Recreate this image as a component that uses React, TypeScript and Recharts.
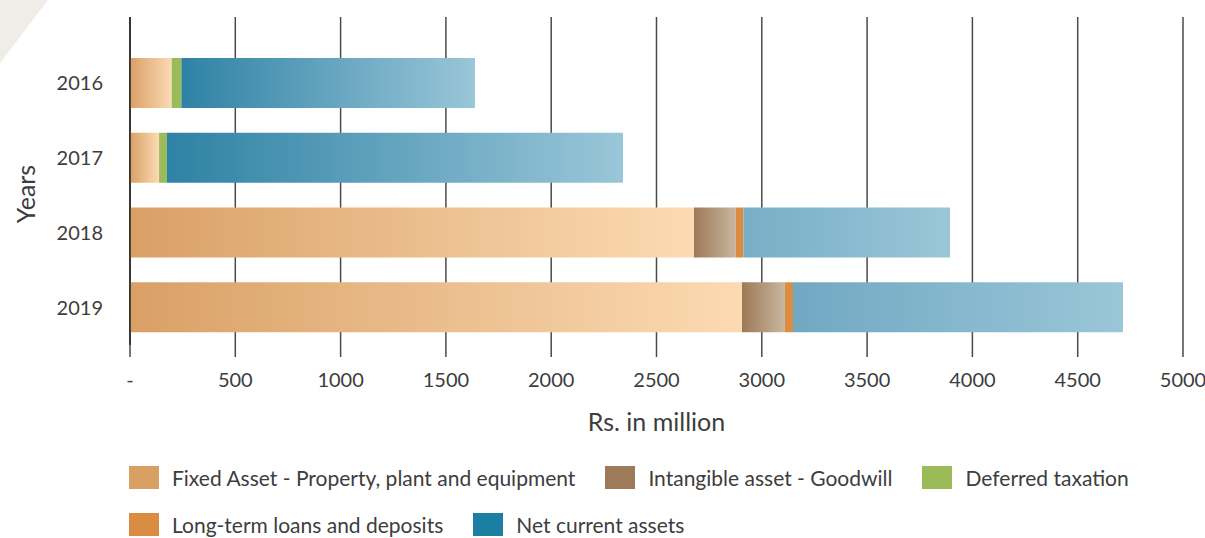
import { BarChart, Bar, XAxis, YAxis, CartesianGrid, Cell } from "recharts";

const years = ["2016", "2017", "2018", "2019"];
const fixedAssets = [198, 138, 2678, 2906];
const goodwill = [0, 0, 199, 204];
const deferredTax = [46, 37, 0, 0];
const loans = [0, 0, 36, 38];
const netCurrent = [1394, 2166, 981, 1567];
const xTicks = [0, 500, 1000, 1500, 2000, 2500, 3000, 3500, 4000, 4500, 5000];

const series = [
  { key: "fixed", name: "Fixed Asset - Property, plant and equipment", color: "#D9A066" },
  { key: "goodwill", name: "Intangible asset - Goodwill", color: "#9E7B58" },
  { key: "deferred", name: "Deferred taxation", color: "#9BBB59" },
  { key: "loans", name: "Long-term loans and deposits", color: "#D98C42" },
  { key: "net", name: "Net current assets", color: "#1A7FA0" },
];

// blue segments start darker on the first two years
const netStart = ["#2F82A5", "#2E82A4", "#78AEC6", "#71A8C2"];

const data = years.map((y, i) => ({
  year: y,
  fixed: fixedAssets[i],
  goodwill: goodwill[i],
  deferred: deferredTax[i],
  loans: loans[i],
  net: netCurrent[i],
}));

const FONT = "Lato, 'Open Sans', sans-serif";
const TEXT = "#3d3d3d";

const YearsLabel = (props: any) => {
  const { viewBox } = props;
  const x = viewBox.x - 15;
  const y = viewBox.y + viewBox.height / 2 + 13;
  return (
    <text
      x={x}
      y={y}
      transform={`rotate(-90, ${x}, ${y})`}
      textAnchor="middle"
      dominantBaseline="central"
      fill={TEXT}
      fontSize={25}
      fontFamily={FONT}
    >
      Years
    </text>
  );
};

function LegendItem({ name, color }: { name: string; color: string }) {
  return (
    <div style={{ display: "flex", alignItems: "center", marginRight: 30, height: 23 }}>
      <span style={{ width: 30, height: 23, background: color, marginRight: 13 }} />
      <span style={{ fontSize: 21, lineHeight: "23px", color: TEXT, fontFamily: FONT }}>{name}</span>
    </div>
  );
}

export default function App() {
  const row1 = [series[0], series[1], series[2]];
  const row2 = [series[3], series[4]];
  return (
    <div style={{ position: "absolute", left: 0, top: 0, width: 1205, height: 538, background: "#fff", overflow: "hidden" }}>
      <svg width={60} height={70} style={{ position: "absolute", left: 0, top: 0 }}>
        <polygon points="0,0 48,0 0,63" fill="#F0EDE8" />
      </svg>
      <BarChart
        width={1205}
        height={538}
        data={data}
        layout="vertical"
        margin={{ top: 17, right: 22, left: 40, bottom: 125 }}
        barSize={50}
      >
        <defs>
          <linearGradient id="gFixed" x1="0" y1="0" x2="1" y2="0">
            <stop offset="0%" stopColor="#D9A066" />
            <stop offset="100%" stopColor="#FCDAB3" />
          </linearGradient>
          <linearGradient id="gGood" x1="0" y1="0" x2="1" y2="0">
            <stop offset="0%" stopColor="#9C7A56" />
            <stop offset="100%" stopColor="#C9B6A0" />
          </linearGradient>
          {netStart.map((c, i) => (
            <linearGradient key={i} id={`gNet${i}`} x1="0" y1="0" x2="1" y2="0">
              <stop offset="0%" stopColor={c} />
              <stop offset="100%" stopColor="#9AC6D8" />
            </linearGradient>
          ))}
        </defs>
        <CartesianGrid vertical horizontal={false} stroke="#4a4a4a" strokeWidth={1.5} />
        <XAxis
          type="number"
          domain={[0, 5000]}
          ticks={xTicks}
          interval={0}
          axisLine={false}
          tickSize={12}
          tickLine={{ stroke: "#4a4a4a", strokeWidth: 1.5 }}
          tickMargin={16}
          height={68}
          tick={{ fill: TEXT, fontSize: 20, fontFamily: FONT }}
          tickFormatter={(v: number) => (v === 0 ? "-" : String(v))}
          label={{ value: "Rs. in million", position: "bottom", offset: 0, fill: TEXT, fontSize: 25, fontFamily: FONT }}
        />
        <YAxis
          type="category"
          dataKey="year"
          width={90}
          axisLine={{ stroke: "#222", strokeWidth: 1.5 }}
          tickLine={false}
          tickSize={0}
          tickMargin={27}
          padding={{ top: 29, bottom: 0 }}
          tick={{ fill: TEXT, fontSize: 20, fontFamily: FONT }}
          label={<YearsLabel />}
        />
        <Bar dataKey="fixed" name={series[0].name} stackId="a" fill="url(#gFixed)" isAnimationActive={false} />
        <Bar dataKey="goodwill" name={series[1].name} stackId="a" fill="url(#gGood)" isAnimationActive={false} />
        <Bar dataKey="deferred" name={series[2].name} stackId="a" fill="#9BBB59" isAnimationActive={false} />
        <Bar dataKey="loans" name={series[3].name} stackId="a" fill="#D98C42" isAnimationActive={false} />
        <Bar dataKey="net" name={series[4].name} stackId="a" isAnimationActive={false}>
          {data.map((_, i) => (
            <Cell key={i} fill={`url(#gNet${i})`} />
          ))}
        </Bar>
      </BarChart>
      <div style={{ position: "absolute", left: 129, top: 466, display: "flex" }}>
        {row1.map((s) => (
          <LegendItem key={s.key} name={s.name} color={s.color} />
        ))}
      </div>
      <div style={{ position: "absolute", left: 129, top: 513, display: "flex" }}>
        {row2.map((s) => (
          <LegendItem key={s.key} name={s.name} color={s.color} />
        ))}
      </div>
    </div>
  );
}
